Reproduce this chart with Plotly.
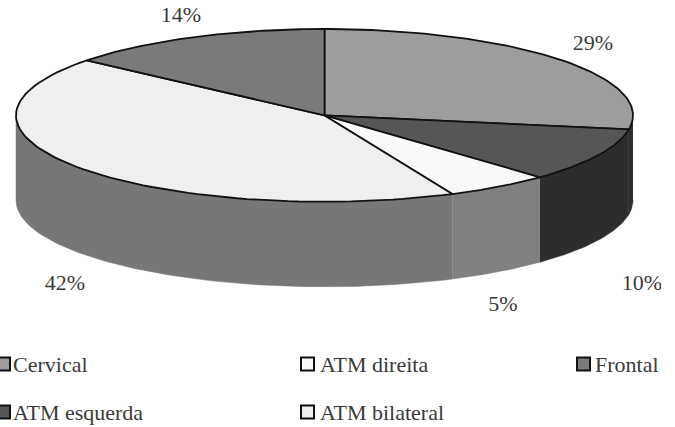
import numpy as np
import plotly.graph_objects as go

categories = ["Cervical", "ATM esquerda", "ATM direita", "ATM bilateral", "Frontal"]
values = [27.6, 10.1, 5.5, 42.8, 14.0]
percent_labels = ["29%", "10%", "5%", "42%", "14%"]
top_colors = ["#9d9d9d", "#565656", "#f9f9f9", "#efefef", "#7a7a7a"]
wall_colors = ["#2d2d2d", "#2d2d2d", "#808080", "#777777", "#7a7a7a"]

# layout constants, in page pixels
CX, CY, A, B, DEPTH = 324.5, 115.4, 308.5, 86.4, 85
label_pos = [(593, 44), (642, 284), (503, 305), (65, 284), (181, 16)]
legend_pos = [(3.5, 364), (3.5, 412), (307.5, 364), (307.5, 412), (583.5, 364)]
legend_text_x = [13, 13, 320, 320, 595]
TEXT = "#3a3a3a"
FONT = "Liberation Serif"


def arc(a0, a1, n=80):
    t = np.radians(np.linspace(a0, a1, n))
    return CX + A * np.sin(t), CY - B * np.cos(t)


fig = go.Figure()
edges = np.concatenate([[0], np.cumsum(values) / np.sum(values) * 360])

# side walls (only the front half, 90..270 degrees clockwise from the top)
for i in range(len(values)):
    a0, a1 = max(edges[i], 90), min(edges[i + 1], 270)
    if a1 <= a0:
        continue
    x, y = arc(a0, a1)
    fig.add_trace(go.Scatter(
        x=np.concatenate([x, x[::-1]]), y=np.concatenate([y, y[::-1] + DEPTH]),
        mode="lines", fill="toself", fillcolor=wall_colors[i],
        line=dict(color=wall_colors[i], width=0.5), hoverinfo="skip"))

# top face slices
for i in range(len(values)):
    x, y = arc(edges[i], edges[i + 1])
    fig.add_trace(go.Scatter(
        x=np.concatenate([[CX], x, [CX]]), y=np.concatenate([[CY], y, [CY]]),
        mode="lines", fill="toself", fillcolor=top_colors[i],
        line=dict(color="#111111", width=1.8), hoverinfo="skip"))

# percentage labels
fig.add_trace(go.Scatter(
    x=[p[0] for p in label_pos], y=[p[1] for p in label_pos],
    mode="text", text=percent_labels, textposition="middle center",
    textfont=dict(family=FONT, size=22, color=TEXT), hoverinfo="skip"))

# legend
fig.add_trace(go.Scatter(
    x=[p[0] for p in legend_pos], y=[p[1] for p in legend_pos], mode="markers",
    marker=dict(symbol="square", size=13, color=top_colors,
                line=dict(color="#111111", width=2)), hoverinfo="skip"))
fig.add_trace(go.Scatter(
    x=legend_text_x, y=[p[1] + 2 for p in legend_pos], mode="text", text=categories,
    textposition="middle right",
    textfont=dict(family=FONT, size=22, color=TEXT), hoverinfo="skip"))

fig.update_layout(
    width=675, height=427, margin=dict(l=0, r=14, t=0, b=0), autosize=False,
    paper_bgcolor="white", plot_bgcolor="white", showlegend=False,
    xaxis=dict(range=[0, 661], visible=False, fixedrange=True),
    yaxis=dict(range=[427, 0], visible=False, fixedrange=True))
fig.write_html("out.html", config=dict(displayModeBar=False),
               default_width="675px", default_height="427px",
               post_script="document.body.style.margin='0';document.body.style.overflow='hidden';")
